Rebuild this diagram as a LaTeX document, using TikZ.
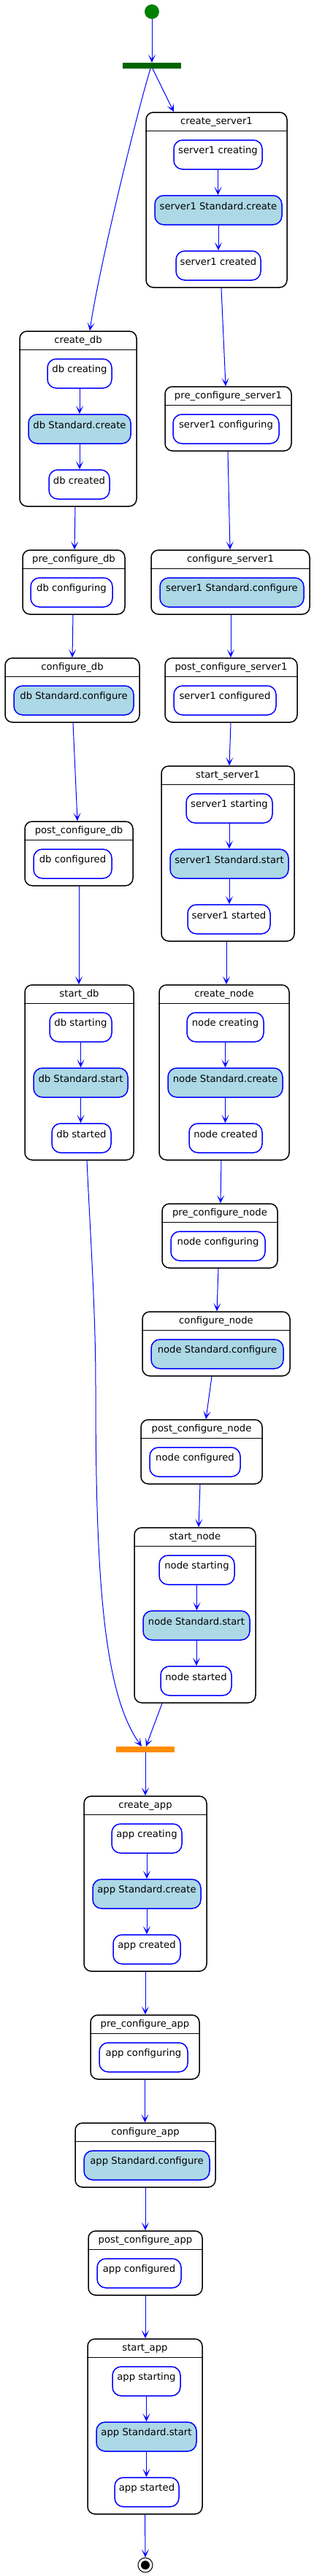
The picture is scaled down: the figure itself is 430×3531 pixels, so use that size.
\documentclass[tikz,border=0pt]{standalone}
\usepackage{fontspec}
\setmainfont{DejaVu Sans}
\usetikzlibrary{fit,arrows.meta,calc}
\definecolor{actblue}{HTML}{0000FF}
\definecolor{lblue}{HTML}{ADD8E6}
\definecolor{startgreen}{HTML}{008000}
\definecolor{forkgreen}{HTML}{006400}
\definecolor{joinorange}{HTML}{FF8C00}
\tikzset{
 comp/.style={draw=black, line width=1.5pt, rounded corners=10pt, inner sep=0pt, fill=white},
 hline/.style={draw=black, line width=1.5pt},
 ttl/.style={inner sep=0pt, font=\fontsize{13.2}{15}\selectfont},
 act/.style={draw=actblue, line width=1.5pt, rounded corners=12pt, inner sep=0pt, fill=white, font=\fontsize{13.2}{15}\selectfont},
 std/.style={act, fill=lblue},
 arr/.style={draw=actblue, line width=1pt, -{Stealth[length=11pt,width=10pt,inset=6pt]}},
 barbox/.style={inner sep=0pt, draw=none},
}
\newcommand{\compbox}[6]{%
 \node[comp, fit={(#2,#3) (#4,#5)}] (#1) {};
 \draw[hline] ([yshift=-26pt]#1.north west) -- ([yshift=-26pt]#1.north east);
 \node[ttl] (#1t) at ([yshift=-14pt]#1.north) {#6};}
\newcommand{\actbox}[7]{\node[#7, fit={(#2,#3) (#4,#5)}] (#1) {#6};}
\newcommand{\inarr}[2]{\draw[arr] (#1.south) -- (#1.south |- #2.north);}
\begin{document}
\begin{tikzpicture}[x=1pt,y=-1pt]
\useasboundingbox (0,0) rectangle (430,3531);
% start and fork
\node[circle, fill=startgreen, minimum size=20pt, inner sep=0pt] (start) at (208,16) {};
\node[barbox, fill=forkgreen, fit={(168,86) (248,94)}] (fork) {};
% server1 branch
\compbox{cs1}{200}{154}{393}{394}{create\_server1}
\actbox{cs1a}{238}{192}{359}{232}{server1 creating}{act}
\actbox{cs1b}{212}{268}{386}{308}{server1 Standard.create}{std}
\actbox{cs1c}{241}{344}{357}{384}{server1 created}{act}
\compbox{pcs1}{226}{530}{399}{618}{pre\_configure\_server1}
\actbox{pcs1a}{237}{568}{382}{608}{server1 configuring}{act}
\compbox{ccs1}{207}{754}{424}{842}{configure\_server1}
\actbox{ccs1a}{219}{792}{416}{832}{server1 Standard.configure}{std}
\compbox{qcs1}{226}{902}{407}{990}{post\_configure\_server1}
\actbox{qcs1a}{238}{940}{378}{980}{server1 configured}{act}
\compbox{scs1}{221}{1050}{403}{1290}{start\_server1}
\actbox{scs1a}{255}{1088}{373}{1128}{server1 starting}{act}
\actbox{scs1b}{233}{1164}{395}{1204}{server1 Standard.start}{std}
\actbox{scs1c}{257}{1240}{370}{1280}{server1 started}{act}
% node branch
\compbox{cn}{218}{1350}{396}{1590}{create\_node}
\actbox{cna}{256}{1388}{361}{1428}{node creating}{act}
\actbox{cnb}{230}{1464}{387}{1504}{node Standard.create}{std}
\actbox{cnc}{259}{1540}{359}{1580}{node created}{act}
\compbox{pcn}{222}{1650}{380}{1738}{pre\_configure\_node}
\actbox{pcna}{234}{1688}{363}{1728}{node configuring}{act}
\compbox{ccn}{195}{1798}{397}{1886}{configure\_node}
\actbox{ccna}{207}{1836}{388}{1876}{node Standard.configure}{std}
\compbox{qcn}{193}{1946}{359}{2034}{post\_configure\_node}
\actbox{qcna}{205}{1984}{329}{2024}{node configured}{act}
\compbox{sn}{184}{2094}{350}{2334}{start\_node}
\actbox{sna}{218}{2132}{321}{2172}{node starting}{act}
\actbox{snb}{196}{2208}{342}{2248}{node Standard.start}{std}
\actbox{snc}{220}{2284}{317}{2324}{node started}{act}
% db branch
\compbox{cdb}{27}{454}{187}{694}{create\_db}
\actbox{cdba}{65}{492}{153}{532}{db creating}{act}
\actbox{cdbb}{39}{568}{179}{608}{db Standard.create}{std}
\actbox{cdbc}{67}{644}{150}{684}{db created}{act}
\compbox{pcdb}{31}{754}{171}{842}{pre\_configure\_db}
\actbox{pcdba}{42}{792}{154}{832}{db configuring}{act}
\compbox{ccdb}{7}{902}{191}{990}{configure\_db}
\actbox{ccdba}{19}{940}{183}{980}{db Standard.configure}{std}
\compbox{qcdb}{34}{1126}{182}{1214}{post\_configure\_db}
\actbox{qcdba}{46}{1164}{153}{1204}{db configured}{act}
\compbox{sdb}{34}{1350}{183}{1590}{start\_db}
\actbox{sdba}{68}{1388}{153}{1428}{db starting}{act}
\actbox{sdbb}{46}{1464}{175}{1504}{db Standard.start}{std}
\actbox{sdbc}{71}{1540}{152}{1580}{db started}{act}
% join
\node[barbox, fill=joinorange, fit={(159,2394) (239,2402)}] (join) {};
% app
\compbox{ca}{115}{2462}{283}{2702}{create\_app}
\actbox{caa}{153}{2500}{249}{2540}{app creating}{act}
\actbox{cab}{127}{2576}{275}{2616}{app Standard.create}{std}
\actbox{cac}{155}{2652}{247}{2692}{app created}{act}
\compbox{pca}{124}{2762}{273}{2850}{pre\_configure\_app}
\actbox{pcaa}{136}{2800}{257}{2840}{app configuring}{act}
\compbox{cca}{103}{2910}{295}{2998}{configure\_app}
\actbox{ccaa}{115}{2948}{287}{2988}{app Standard.configure}{std}
\compbox{qca}{121}{3058}{277}{3146}{post\_configure\_app}
\actbox{qcaa}{133}{3096}{248}{3136}{app configured}{act}
\compbox{sa}{120}{3206}{277}{3446}{start\_app}
\actbox{saa}{154}{3244}{247}{3284}{app starting}{act}
\actbox{sab}{132}{3320}{269}{3360}{app Standard.start}{std}
\actbox{sac}{157}{3396}{245}{3436}{app started}{act}
% end
\node[circle, draw=black, line width=1pt, fill=white, minimum size=20pt, inner sep=0pt] (end) at (199,3516) {};
\node[circle, fill=black, minimum size=12pt, inner sep=0pt] (endin) at (end.center) {};
% inner arrows
\inarr{cs1a}{cs1b}\inarr{cs1b}{cs1c}
\inarr{scs1a}{scs1b}\inarr{scs1b}{scs1c}
\inarr{cna}{cnb}\inarr{cnb}{cnc}
\inarr{sna}{snb}\inarr{snb}{snc}
\inarr{cdba}{cdbb}\inarr{cdbb}{cdbc}
\inarr{sdba}{sdbb}\inarr{sdbb}{sdbc}
\inarr{caa}{cab}\inarr{cab}{cac}
\inarr{saa}{sab}\inarr{sab}{sac}
% outer arrows
\draw[arr] (start.south) -- (fork.north);
\draw[arr] ([xshift=1pt]fork.south) -- ([xshift=-58.5pt]cs1.north);
\draw[arr] ([xshift=-2pt]fork.south) .. controls (186,160) and (135,370) .. ([xshift=16pt]cdb.north);
\draw[arr] ([xshift=6.5pt]cs1.south) -- ([xshift=-3.5pt]pcs1.north);
\draw[arr] ([xshift=-0.5pt]pcs1.south) -- ([xshift=-0.5pt]ccs1.north);
\draw[arr] ([xshift=0.5pt]ccs1.south) -- ([xshift=-0.5pt]qcs1.north);
\draw[arr] ([xshift=-0.5pt]qcs1.south) -- ([xshift=2pt]scs1.north);
\draw[arr] ([xshift=-2pt]scs1.south) -- ([xshift=3pt]cn.north);
\draw[arr] ([xshift=-4pt]cn.south) -- ([xshift=1pt]pcn.north);
\draw[arr] ([xshift=-2pt]pcn.south) -- ([xshift=1pt]ccn.north);
\draw[arr] ([xshift=-6pt]ccn.south) -- ([xshift=6pt]qcn.north);
\draw[arr] ([xshift=-2pt]qcn.south) -- ([xshift=5pt]sn.north);
\draw[arr] ([xshift=-45pt]sn.south) -- ([xshift=1pt]join.north);
\draw[arr] ([xshift=-4pt]cdb.south) -- ([xshift=1pt]pcdb.north);
\draw[arr] ([xshift=-1pt]pcdb.south) -- (ccdb.north);
\draw[arr] ([xshift=1pt]ccdb.south) -- ([xshift=-2pt]qcdb.north);
\draw[arr] (qcdb.south) -- ([xshift=-0.5pt]sdb.north);
\draw[arr] ([xshift=10.5pt]sdb.south) .. controls (124,1700) and (131,1800) .. (131,1900)
  .. controls (131,2150) and (140,2320) .. ([xshift=-5pt]join.north);
\draw[arr] (join.south) -- (ca.north);
\draw[arr] (ca.south) -- (ca.south |- pca.north);
\draw[arr] (pca.south) -- (pca.south |- cca.north);
\draw[arr] (cca.south) -- (cca.south |- qca.north);
\draw[arr] (qca.south) -- (qca.south |- sa.north);
\draw[arr] (sa.south) -- (end.north);
\end{tikzpicture}
\end{document}
